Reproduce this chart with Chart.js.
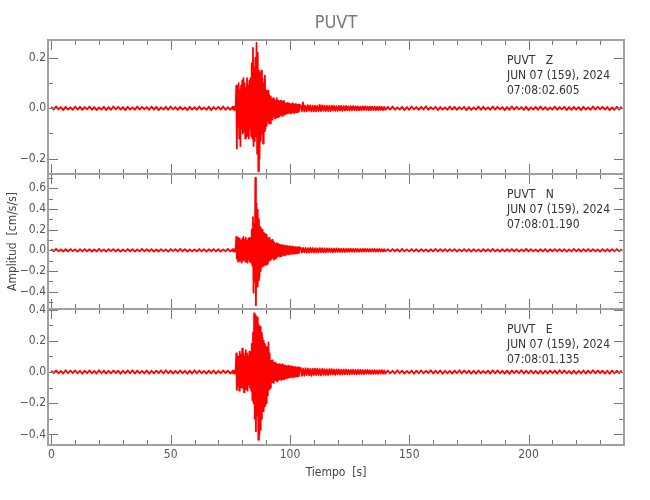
<!DOCTYPE html>
<html>
<head>
<meta charset="utf-8">
<script src="https://cdn.jsdelivr.net/npm/chart.js@4.4.1/dist/chart.umd.min.js"></script>
<style>
  body { margin: 0; background: #fff; }
  #wrap { position: relative; width: 650px; height: 500px; }
  #wrap canvas { position: absolute; left: 0; top: 0; }
</style>
</head>
<body>
<div id="wrap">
  <canvas id="zChart" width="650" height="500"></canvas>
  <canvas id="nChart" width="650" height="500"></canvas>
  <canvas id="eChart" width="650" height="500"></canvas>
</div>
<script>
// tick labels
const xTicks = [0, 50, 100, 150, 200];
const zTicks = [-0.2, 0, 0.2];
const nTicks = [-0.4, -0.2, 0, 0.2, 0.4, 0.6];
const eTicks = [-0.4, -0.2, 0, 0.2, 0.4];

const zHeader = ["PUVT   Z", "JUN 07 (159), 2024", "07:08:02.605"];
const nHeader = ["PUVT   N", "JUN 07 (159), 2024", "07:08:01.190"];
const eHeader = ["PUVT   E", "JUN 07 (159), 2024", "07:08:01.135"];

// samples (cm/s/s)
// quiet1: 0..75 s every 1 s, active: 76..104 s every 0.25 s,
// coda: 104.5..140 s every 0.5 s, quiet2: 141..239 s every 1 s

// ---- Z ----
const zQuiet1 = [.006,-.005,.007,-.004,.005,-.007,.006,-.005,.004,-.006,
  .007,-.005,.006,-.006,.005,-.004,.007,-.006,.005,-.007,
  .004,-.005,.006,-.007,.005,-.006,.007,-.004,.006,-.005,
  .005,-.007,.006,-.005,.004,-.006,.007,-.005,.006,-.004,
  .005,-.006,.007,-.005,.006,-.007,.004,-.005,.006,-.006,
  .007,-.004,.005,-.006,.006,-.005,.004,-.007,.006,-.005,
  .005,-.006,.007,-.005,.004,-.006,.006,-.007,.005,-.004,
  .006,-.005,.007,-.006,.005,-.006];
const zActive = [.006,-.005,.007,-.006,.005,-.007,
  .09,-.16,.08,-.07,.10,-.12,.07,-.15,.09,-.08,
  .11,-.10,.12,-.09,.10,-.12,.08,-.11,.12,-.10,.09,-.12,.11,-.08,.12,-.11,
  .18,-.12,.24,-.15,.16,-.13,.20,-.11,
  .26,-.18,.22,-.25,.15,-.20,
  .14,-.13,.15,-.10,.12,-.14,.10,-.09,.13,-.08,
  .07,-.07,.06,-.05,.07,-.06,.05,-.06,
  .045,-.04,.035,-.045,.04,-.03,.035,-.04,.03,-.035,.04,-.03,.03,-.035,.025,-.03,.03,-.025,.03,-.03,.025,-.02,.03,-.025,
  .02,-.022,.018,-.02,.022,-.018,.02,-.016,.018,-.02,.015,-.018,.02,-.015,.016,-.018,.015,-.014,.018,-.015,.014,-.016,.015,-.013,.014];
const zCoda = [.012,-.011,.024,-.013,.011,-.012,.013,-.01,.012,-.012,.011,-.012,
  .011,-.012,.01,-.011,.014,-.011,.012,-.01,.011,-.011,.01,-.011,
  .01,-.011,.011,-.009,.01,-.01,.009,-.01,.01,-.009,.01,-.01,
  .009,-.009,.01,-.008,.008,-.009,.009,-.008,.009,-.008,.008,-.009,
  .008,-.008,.007,-.008,.008,-.007,.008,-.007,.007,-.008,.007,-.007,
  .007,-.006,.007,-.007,.006,-.007,.007,-.006,.006,-.007,.006,-.006];
const zQuiet2 = [.006,-.005,.007,-.006,.004,-.005,.006,-.007,.005,-.006,
  .007,-.004,.005,-.006,.006,-.005,.008,-.006,.005,-.004,
  .006,-.007,.005,-.005,.004,-.006,.007,-.005,.006,-.006,
  .005,-.004,.006,-.007,.005,-.006,.004,-.005,.007,-.006,
  .006,-.005,.004,-.006,.007,-.005,.006,-.004,.005,-.007,
  .005,-.006,.007,-.005,.006,-.004,.005,-.006,.006,-.007,
  .004,-.005,.006,-.006,.007,-.005,.005,-.006,.004,-.005,
  .007,-.006,.005,-.004,.006,-.007,.005,-.006,.006,-.005,
  .005,-.007,.006,-.005,.004,-.006,.007,-.005,.006,-.004,
  .006,-.005,.005,-.007,.004,-.006,.006,-.005,.007];

// ---- N ----
const nQuiet1 = [.011,-.009,.013,-.010,.008,-.012,.010,-.011,.012,-.008,
  .009,-.013,.011,-.010,.012,-.009,.010,-.012,.008,-.011,
  .013,-.010,.009,-.012,.011,-.008,.012,-.011,.010,-.013,
  .008,-.010,.012,-.009,.011,-.012,.009,-.010,.013,-.011,
  .010,-.009,.012,-.013,.008,-.011,.011,-.010,.009,-.012,
  .012,-.008,.010,-.011,.013,-.009,.011,-.012,.008,-.010,
  .009,-.011,.012,-.010,.011,-.013,.010,-.009,.012,-.011,
  .010,-.012,.009,-.011,.013,-.010];
const nActive = [.01,-.012,.011,-.01,.012,-.011,
  .13,-.08,.10,-.11,.12,-.09,.11,-.10,.09,-.12,
  .11,-.10,.13,-.09,.10,-.11,.12,-.10,.09,-.12,.11,-.09,.12,-.11,.10,-.12,
  .20,-.15,.32,-.41,.25,-.30,.70,-.53,
  .45,-.35,.39,-.29,.30,-.26,
  .22,-.20,.18,-.16,.20,-.15,.17,-.14,.16,-.13,
  .15,-.14,.12,-.13,.11,-.10,.12,-.09,
  .09,-.08,.10,-.07,.08,-.09,.07,-.08,.06,-.07,.07,-.06,.06,-.05,.055,-.06,.05,-.055,.05,-.045,.05,-.04,.045,-.05,
  .04,-.045,.04,-.035,.04,-.04,.035,-.03,.04,-.035,.03,-.035,.035,-.03,.03,-.032,.03,-.028,.03,-.03,.028,-.025,.03,-.026,.025];
const nCoda = [.025,-.022,.024,-.02,.022,-.025,.02,-.022,.024,-.02,.022,-.021,
  .02,-.022,.019,-.02,.021,-.018,.02,-.019,.018,-.02,.019,-.017,
  .018,-.017,.016,-.018,.017,-.016,.018,-.015,.016,-.017,.015,-.016,
  .015,-.016,.014,-.015,.016,-.014,.015,-.013,.014,-.015,.013,-.014,
  .013,-.014,.012,-.013,.014,-.012,.013,-.012,.012,-.013,.012,-.011,
  .012,-.011,.013,-.012,.011,-.012,.012,-.011,.01,-.012,.011,-.01];
const nQuiet2 = [.011,-.010,.012,-.009,.010,-.012,.013,-.011,.009,-.010,
  .012,-.011,.010,-.013,.011,-.009,.008,-.012,.010,-.011,
  .013,-.010,.011,-.009,.012,-.011,.010,-.008,.011,-.012,
  .009,-.010,.012,-.011,.010,-.013,.011,-.010,.009,-.012,
  .012,-.009,.010,-.011,.013,-.010,.008,-.012,.011,-.010,
  .010,-.011,.012,-.009,.011,-.012,.009,-.010,.013,-.011,
  .011,-.010,.009,-.012,.010,-.011,.012,-.013,.010,-.009,
  .012,-.011,.010,-.010,.011,-.012,.009,-.011,.013,-.010,
  .010,-.012,.011,-.009,.012,-.010,.011,-.011,.009,-.012,
  .012,-.010,.010,-.011,.011,-.009,.012,-.010,.011];

// ---- E ----
const eQuiet1 = [.009,-.008,.010,-.009,.007,-.010,.011,-.008,.009,-.007,
  .010,-.009,.008,-.011,.009,-.008,.010,-.009,.007,-.010,
  .011,-.008,.009,-.010,.008,-.009,.010,-.007,.009,-.011,
  .008,-.009,.010,-.008,.011,-.010,.009,-.008,.007,-.009,
  .010,-.011,.008,-.009,.009,-.007,.010,-.010,.011,-.008,
  .009,-.010,.007,-.009,.010,-.008,.008,-.011,.009,-.010,
  .011,-.009,.010,-.008,.007,-.010,.009,-.009,.010,-.011,
  .008,-.009,.010,-.007,.009,-.010];
const eActive = [.008,-.01,.009,-.008,.01,-.009,
  .12,-.115,.07,-.09,.10,-.12,.13,-.08,.11,-.10,
  .15,-.10,.12,-.13,.10,-.09,.14,-.11,.12,-.12,.10,-.08,.13,-.10,.11,-.12,
  .18,-.18,.25,-.20,.375,-.30,.36,-.38,
  .32,-.28,.35,-.435,.30,-.40,
  .29,-.37,.25,-.30,.22,-.25,.20,-.22,.18,-.21,
  .16,-.20,.14,-.15,.19,-.11,.12,-.10,
  .07,-.06,.075,-.065,.06,-.07,.055,-.05,.06,-.055,.05,-.06,.045,-.05,.05,-.045,.04,-.05,.045,-.04,.05,-.045,.04,-.045,
  .04,-.038,.035,-.04,.038,-.035,.04,-.034,.035,-.032,.036,-.03,.032,-.035,.03,-.03,.032,-.028,.03,-.03,.028,-.027,.03,-.026,.025];
const eCoda = [.026,-.024,.022,-.025,.024,-.02,.023,-.022,.02,-.024,.022,-.02,
  .021,-.019,.022,-.02,.018,-.021,.02,-.018,.019,-.02,.017,-.019,
  .018,-.016,.019,-.017,.016,-.018,.017,-.015,.016,-.017,.015,-.016,
  .015,-.014,.016,-.015,.013,-.015,.014,-.013,.015,-.014,.013,-.014,
  .013,-.012,.014,-.013,.012,-.013,.012,-.011,.013,-.012,.011,-.012,
  .011,-.012,.012,-.011,.01,-.012,.011,-.01,.012,-.011,.01,-.011];
const eQuiet2 = [.010,-.009,.008,-.010,.011,-.008,.009,-.010,.007,-.009,
  .010,-.011,.009,-.008,.010,-.009,.008,-.007,.011,-.010,
  .009,-.008,.010,-.011,.008,-.009,.007,-.010,.009,-.008,
  .011,-.009,.010,-.008,.009,-.010,.008,-.011,.010,-.009,
  .007,-.008,.009,-.010,.011,-.009,.010,-.008,.008,-.010,
  .009,-.011,.010,-.007,.009,-.008,.011,-.010,.008,-.009,
  .010,-.009,.007,-.010,.009,-.011,.008,-.009,.010,-.008,
  .009,-.010,.011,-.008,.010,-.009,.007,-.010,.009,-.011,
  .008,-.009,.010,-.010,.009,-.008,.011,-.009,.010,-.007,
  .009,-.010,.008,-.011,.010,-.009,.009,-.008,.010];

const FONT = "'DejaVu Sans Condensed', 'Liberation Sans', sans-serif";
Chart.defaults.font.family = FONT;

function segment(start, step, vals) {
  return vals.map((v, i) => ({ x: start + i * step, y: v }));
}
function trace(q1, act, coda, q2) {
  return [].concat(segment(0, 1, q1), segment(76, 0.25, act), segment(104.5, 0.5, coda), segment(141, 1, q2));
}

function fmt(v) {
  return Number(v).toFixed(1).replace("-", "\u2212");
}

// frame, inward ticks and the header text of each panel
const framePlugin = {
  id: "frame",
  afterDatasetsDraw(chart, args, opts) {
    const { ctx, chartArea: a, scales: { x, y } } = chart;
    ctx.save();
    ctx.strokeStyle = "#777";
    ctx.lineWidth = 1;
    ctx.beginPath();
    for (let t = 0; t <= x.max; t += 10) {
      const px = Math.round(x.getPixelForValue(t)) + 0.5;
      const len = t % 50 === 0 ? 10 : 5;
      ctx.moveTo(px, a.top); ctx.lineTo(px, a.top + len);
      ctx.moveTo(px, a.bottom); ctx.lineTo(px, a.bottom - len);
    }
    for (let k = Math.ceil(y.min * 10); k <= Math.floor(y.max * 10); k++) {
      const py = Math.round(y.getPixelForValue(k / 10)) + 0.5;
      const len = k % 2 === 0 ? 10 : 5;
      ctx.moveTo(a.left, py); ctx.lineTo(a.left + len, py);
      ctx.moveTo(a.right, py); ctx.lineTo(a.right - len, py);
    }
    ctx.stroke();
    ctx.strokeStyle = "#a0a0a0";
    ctx.lineWidth = 2;
    ctx.strokeRect(a.left, a.top, a.right - a.left, a.bottom - a.top);

    ctx.fillStyle = "#333";
    ctx.font = "12px " + FONT;
    ctx.textBaseline = "middle";
    ctx.textAlign = "left";
    opts.lines.forEach((s, i) => ctx.fillText(s, 507, a.top + 21 + i * 15));

    if (opts.title) {
      ctx.fillStyle = "#777";
      ctx.font = "18px " + FONT;
      ctx.textAlign = "center";
      ctx.fillText(opts.title, (a.left + a.right) / 2, 23);
    }
    ctx.restore();
  }
};

function makeChart(id, data, yMin, yMax, yTickVals, header, padTop, padBottom, extra) {
  const showX = !!extra.showX;
  return new Chart(document.getElementById(id), {
    type: "line",
    data: {
      datasets: [{
        data: data,
        borderColor: "#ff0000",
        borderWidth: 1.8,
        borderJoinStyle: "round",
        pointRadius: 0,
        tension: 0,
        fill: false
      }]
    },
    options: {
      responsive: false,
      animation: false,
      layout: { padding: { top: padTop, bottom: padBottom, left: 0, right: 26 } },
      plugins: {
        legend: { display: false },
        tooltip: { enabled: false },
        frame: { lines: header, title: extra.title }
      },
      scales: {
        x: {
          type: "linear",
          min: -1.4,
          max: 240,
          display: showX,
          grid: { display: false, drawTicks: false },
          border: { display: false },
          afterBuildTicks: (s) => { s.ticks = xTicks.map((v) => ({ value: v })); },
          afterFit: (s) => { if (showX) s.height = 40; },
          ticks: { color: "#555", font: { size: 12 }, padding: 3, maxRotation: 0 },
          title: {
            display: showX,
            text: "Tiempo  [s]",
            color: "#444",
            font: { size: 12 },
            padding: { top: 0, bottom: 5 }
          }
        },
        y: {
          min: yMin,
          max: yMax,
          grid: { display: false, drawTicks: false },
          border: { display: false },
          afterBuildTicks: (s) => { s.ticks = yTickVals.map((v) => ({ value: v })); },
          afterFit: (s) => { s.width = 48; },
          ticks: { color: "#555", font: { size: 12 }, padding: 2, callback: (v) => fmt(v) },
          title: {
            display: !!extra.yTitle,
            text: extra.yTitle || "",
            color: "#444",
            font: { size: 12 },
            padding: { top: 6, bottom: 0 }
          }
        }
      }
    },
    plugins: [framePlugin]
  });
}

makeChart("zChart", trace(zQuiet1, zActive, zCoda, zQuiet2), -0.261, 0.2716, zTicks, zHeader, 40, 326, { title: "PUVT" });
makeChart("nChart", trace(nQuiet1, nActive, nCoda, nQuiet2), -0.567, 0.737, nTicks, nHeader, 174, 191, { yTitle: "Amplitud  [cm/s/s]" });
makeChart("eChart", trace(eQuiet1, eActive, eCoda, eQuiet2), -0.468, 0.404, eTicks, eHeader, 309, 15, { showX: true });
</script>
</body>
</html>
